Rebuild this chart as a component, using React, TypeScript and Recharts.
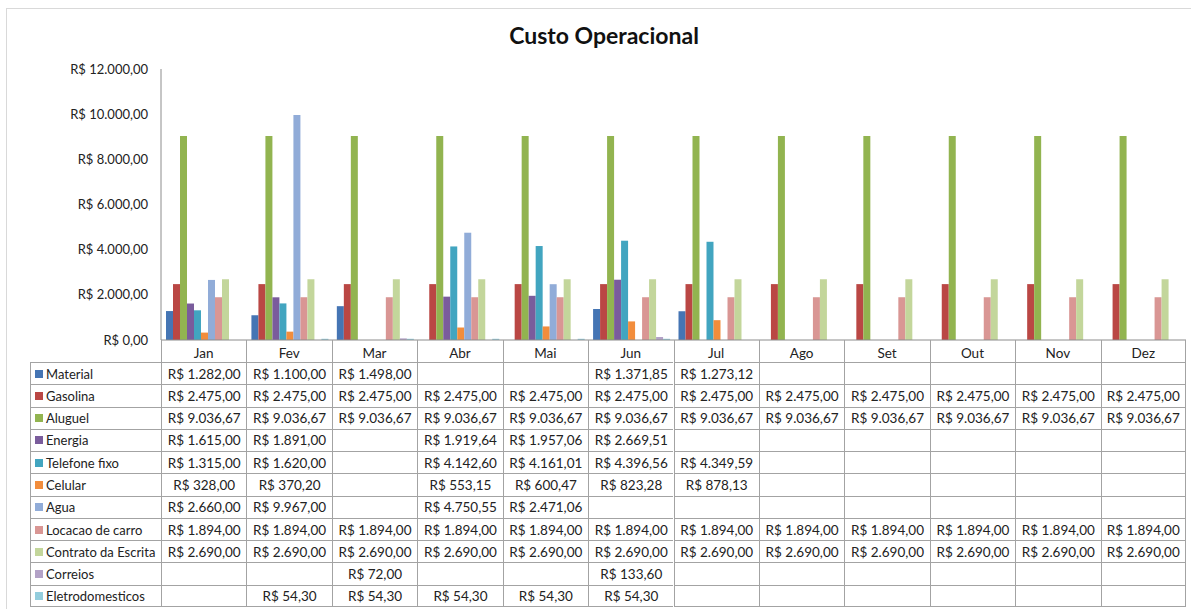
import { BarChart, Bar, XAxis, YAxis } from "recharts";

const months = ["Jan", "Fev", "Mar", "Abr", "Mai", "Jun", "Jul", "Ago", "Set", "Out", "Nov", "Dez"];

const seriesNames = [
  "Material",
  "Gasolina",
  "Aluguel",
  "Energia",
  "Telefone fixo",
  "Celular",
  "Agua",
  "Locacao de carro",
  "Contrato da Escrita",
  "Correios",
  "Eletrodomesticos",
];

const material = [1282, 1100, 1498, null, null, 1371.85, 1273.12, null, null, null, null, null];
const gasolina = [2475, 2475, 2475, 2475, 2475, 2475, 2475, 2475, 2475, 2475, 2475, 2475];
const aluguel = [9036.67, 9036.67, 9036.67, 9036.67, 9036.67, 9036.67, 9036.67, 9036.67, 9036.67, 9036.67, 9036.67, 9036.67];
const energia = [1615, 1891, null, 1919.64, 1957.06, 2669.51, null, null, null, null, null, null];
const telefone = [1315, 1620, null, 4142.6, 4161.01, 4396.56, 4349.59, null, null, null, null, null];
const celular = [328, 370.2, null, 553.15, 600.47, 823.28, 878.13, null, null, null, null, null];
const agua = [2660, 9967, null, 4750.55, 2471.06, null, null, null, null, null, null, null];
const locacao = [1894, 1894, 1894, 1894, 1894, 1894, 1894, 1894, 1894, 1894, 1894, 1894];
const contrato = [2690, 2690, 2690, 2690, 2690, 2690, 2690, 2690, 2690, 2690, 2690, 2690];
const correios = [null, null, 72, null, null, 133.6, null, null, null, null, null, null];
const eletro = [null, 54.3, 54.3, 54.3, 54.3, 54.3, null, null, null, null, null, null];

const seriesValues: (number | null)[][] = [
  material, gasolina, aluguel, energia, telefone, celular, agua, locacao, contrato, correios, eletro,
];

const yTicks = [0, 2000, 4000, 6000, 8000, 10000, 12000];

const COLORS = [
  "#4575B4", "#BA4744", "#92B450", "#7A5C9C", "#42A5C0", "#F28D3C",
  "#91ACD8", "#D99694", "#C3D69B", "#B3A2C7", "#93CDDD",
];

const data = months.map((m, i) => {
  const row: Record<string, string | number | null> = { month: m };
  seriesNames.forEach((s, j) => {
    row[s] = seriesValues[j][i];
  });
  return row;
});

// pt-BR currency, e.g. R$ 1.282,00
const fmt = (v: number) => {
  const [int, dec] = v.toFixed(2).split(".");
  return "R$ " + int.replace(/\B(?=(\d{3})+(?!\d))/g, ".") + "," + dec;
};

const W = 1191;
const H = 609;
const PLOT_LEFT = 161;
const PLOT_RIGHT = 1186;
const PLOT_TOP = 69;
const AXIS_Y = 340;
const HEADER_H = 22;
const TABLE_LEFT = 30;
const TABLE_BOTTOM = 607;
const FONT = "Lato, 'Open Sans', sans-serif";
const GRID = "#a3a3a3";

const band = (PLOT_RIGHT - PLOT_LEFT) / months.length;
const rowTop = AXIS_Y + HEADER_H;
const rowH = (TABLE_BOTTOM - rowTop) / seriesNames.length;

const DataTable = () => {
  const cells: JSX.Element[] = [];
  // header row separators under the category axis
  months.forEach((_, c) => {
    cells.push(
      <div
        key={`h-${c}`}
        style={{
          position: "absolute",
          left: PLOT_LEFT + c * band,
          top: AXIS_Y,
          width: band,
          height: HEADER_H,
          boxSizing: "border-box",
          borderLeft: `1px solid ${GRID}`,
          borderRight: c === months.length - 1 ? `1px solid ${GRID}` : "none",
        }}
      />
    );
  });
  seriesNames.forEach((name, r) => {
    const top = rowTop + r * rowH;
    cells.push(
      <div
        key={`l-${r}`}
        style={{
          position: "absolute",
          left: TABLE_LEFT,
          top,
          width: PLOT_LEFT - TABLE_LEFT,
          height: rowH,
          boxSizing: "border-box",
          borderLeft: `1px solid ${GRID}`,
          borderTop: `1px solid ${GRID}`,
          borderBottom: r === seriesNames.length - 1 ? `1px solid ${GRID}` : "none",
          display: "flex",
          alignItems: "center",
          whiteSpace: "nowrap",
          fontSize: 13,
        }}
      >
        <span
          style={{
            display: "inline-block",
            width: 8,
            height: 8,
            background: COLORS[r],
            marginLeft: 4,
            marginRight: 3,
          }}
        />
        {name}
      </div>
    );
    months.forEach((_, c) => {
      const v = seriesValues[r][c];
      cells.push(
        <div
          key={`c-${r}-${c}`}
          style={{
            position: "absolute",
            left: PLOT_LEFT + c * band,
            top,
            width: band,
            height: rowH,
            boxSizing: "border-box",
            borderLeft: `1px solid ${GRID}`,
            borderTop: `1px solid ${GRID}`,
            borderRight: c === months.length - 1 ? `1px solid ${GRID}` : "none",
            borderBottom: r === seriesNames.length - 1 ? `1px solid ${GRID}` : "none",
            display: "flex",
            alignItems: "center",
            justifyContent: "center",
            whiteSpace: "nowrap",
          }}
        >
          {v == null ? "" : fmt(v)}
        </div>
      );
    });
  });
  return <>{cells}</>;
};

const App = () => {
  return (
    <div
      style={{
        position: "absolute",
        left: 0,
        top: 0,
        width: W,
        height: H,
        overflow: "hidden",
        background: "#fff",
        fontFamily: FONT,
        fontSize: 13.5,
        color: "#222",
      }}
    >
      <div
        style={{
          position: "absolute",
          left: 6,
          top: 8,
          width: W,
          height: H,
          border: "1px solid #d9d9d9",
        }}
      />
      <div
        style={{
          position: "absolute",
          left: 0,
          width: 1208,
          top: 21,
          textAlign: "center",
          fontSize: 23,
          fontWeight: 700,
          color: "#111",
        }}
      >
        Custo Operacional
      </div>
      <div style={{ position: "absolute", left: 0, top: 0 }}>
        <BarChart
          width={W}
          height={H}
          data={data}
          margin={{ top: PLOT_TOP, right: W - PLOT_RIGHT, bottom: H - AXIS_Y - HEADER_H, left: PLOT_LEFT - 100 }}
          barGap={0}
          barCategoryGap={5}
        >
          <XAxis
            dataKey="month"
            height={HEADER_H}
            interval={0}
            axisLine={{ stroke: "#8c8c8c" }}
            tickLine={false}
            tick={{ fill: "#222", fontSize: 13.5, fontFamily: FONT }}
          />
          <YAxis
            width={100}
            domain={[0, 12000]}
            ticks={yTicks}
            tickFormatter={fmt}
            axisLine={{ stroke: "#8c8c8c" }}
            tickLine={false}
            tickMargin={7}
            tick={{ fill: "#222", fontSize: 13, fontFamily: FONT }}
          />
          {seriesNames.map((s, i) => (
            <Bar key={s} dataKey={s} fill={COLORS[i]} isAnimationActive={false} />
          ))}
        </BarChart>
      </div>
      <DataTable />
    </div>
  );
};

export default App;
